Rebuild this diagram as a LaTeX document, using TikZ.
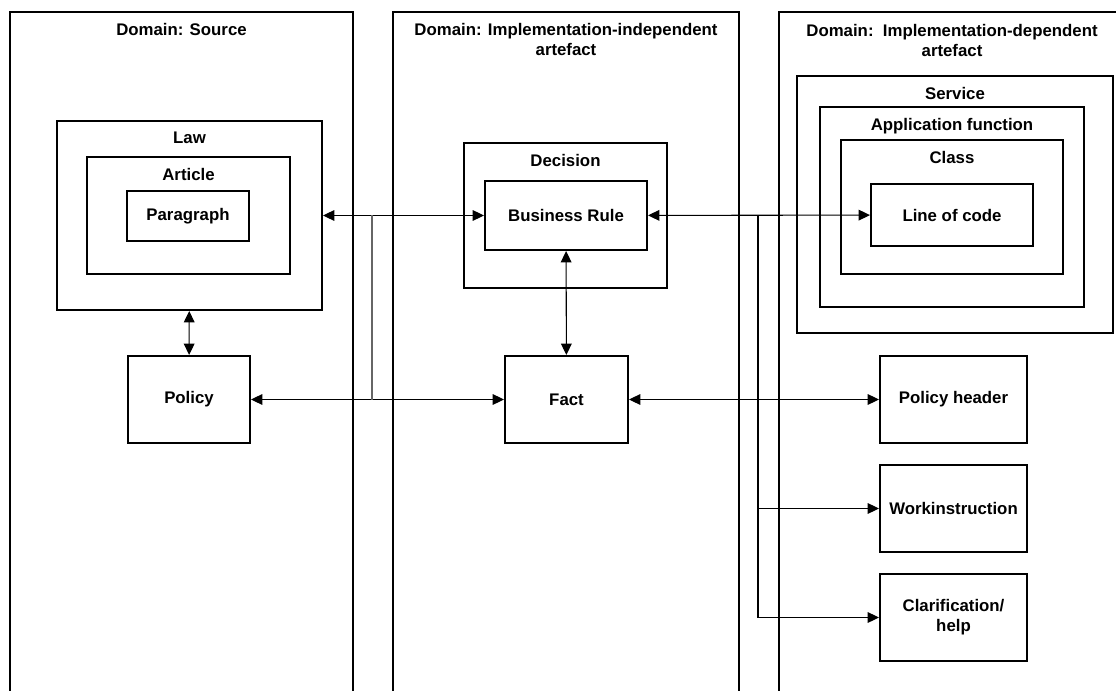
\documentclass[tikz,border=0pt]{standalone}
\usepackage{fontspec}
\setmainfont{Liberation Sans}
\usetikzlibrary{arrows.meta,positioning,fit}

\begin{document}
\begin{tikzpicture}[x=0.75pt, y=-0.75pt, font=\bfseries\fontsize{12.6}{15}\selectfont, every node/.style={inner sep=2pt}]
        \tikzset{
            frame/.style={draw, line width=1.5pt, inner sep=0pt},
            leaf/.style={draw, line width=1.5pt, inner sep=0pt, align=center, minimum width=122*0.75pt, minimum height=87*0.75pt},
            ttl/.style={align=center, anchor=north},
            link/.style={{Triangle[length=8.5pt, width=8pt]}-{Triangle[length=8.5pt, width=8pt]}, line width=0.8pt},
            feed/.style={-{Triangle[length=8.5pt, width=8pt]}, line width=0.8pt},
            tie/.style={line width=0.8pt, black!60}
        }
        \useasboundingbox (0,0) rectangle (1116,691);
        \clip (0,0) rectangle (1116,691);
        % domains
        \node[frame, fit={(10,12) (353,710)}] (src) {};
        \node[frame, fit={(393,12) (739,710)}] (indep) {};
        \node[frame, fit={(779,12) (1125,710)}] (dep) {};
        \coordinate (deptop) at (952,12);
        \node[ttl, below=7pt of src.north] (srct) {Domain: Source};
        \node[ttl, below=7pt of indep.north] (indept) {Domain: Implementation-independent\\artefact};
        \node[ttl, below=7pt of deptop] (dept) {Domain:\ \ Implementation-dependent\\artefact};
        % source
        \node[frame, fit={(57,121) (322,310)}] (law) {};
        \node[ttl, below=7pt of law.north] (lawt) {Law};
        \node[frame, fit={(87,157) (290,274)}] (art) {};
        \node[ttl, below=7pt of art.north] (artt) {Article};
        \node[leaf, minimum height=50*0.75pt] (para) at (188,216) {Paragraph};
        \node[leaf] (policy) at (189,399.5) {Policy};
        % implementation-independent
        \node[frame, fit={(464,143) (667,288)}] (dec) {};
        \node[ttl, below=7pt of dec.north] (dect) {Decision};
        \node[leaf, minimum width=162*0.75pt, minimum height=69*0.75pt] (rule) at (566,215.5) {Business Rule};
        \node[leaf, minimum width=123*0.75pt] (fact) at (566.5,399.5) {Fact};
        % implementation-dependent
        \node[frame, fit={(797,76) (1113,333)}] (serv) {};
        \node[ttl, below=7pt of serv.north] (servt) {Service};
        \node[frame, fit={(820,107) (1084,307)}] (appf) {};
        \node[ttl, below=7pt of appf.north] (appft) {Application function};
        \node[frame, fit={(841,140) (1063,274)}] (cls) {};
        \node[ttl, below=7pt of cls.north] (clst) {Class};
        \node[leaf, minimum width=162*0.75pt, minimum height=62*0.75pt] (code) at (952,215) {Line of code};
        \node[leaf, minimum width=147*0.75pt] (phead) at (953.5,399.5) {Policy header};
        \node[leaf, minimum width=147*0.75pt] (work) at (953.5,508.5) {Workinstruction};
        \node[leaf, minimum width=147*0.75pt] (clar) at (953.5,617.5) {Clarification/\\help};
        % connectors
        \coordinate (j1) at (372,0);
        \coordinate (j2) at (758,0);
        \draw[link] (law.east |- rule) -- (rule.west);
        \draw[link] (law) -- (policy);
        \draw[link] (policy) -- (fact);
        \draw[tie] (j1 |- rule) -- (j1 |- fact);
        \draw[link] (rule) -- (fact);
        \draw[link] (rule) -- (code);
        \draw[link] (fact) -- (phead);
        \draw[feed] (j2 |- rule) |- (clar.west);
        \draw[feed] (j2 |- work) -- (work.west);
    \end{tikzpicture}
\end{document}
